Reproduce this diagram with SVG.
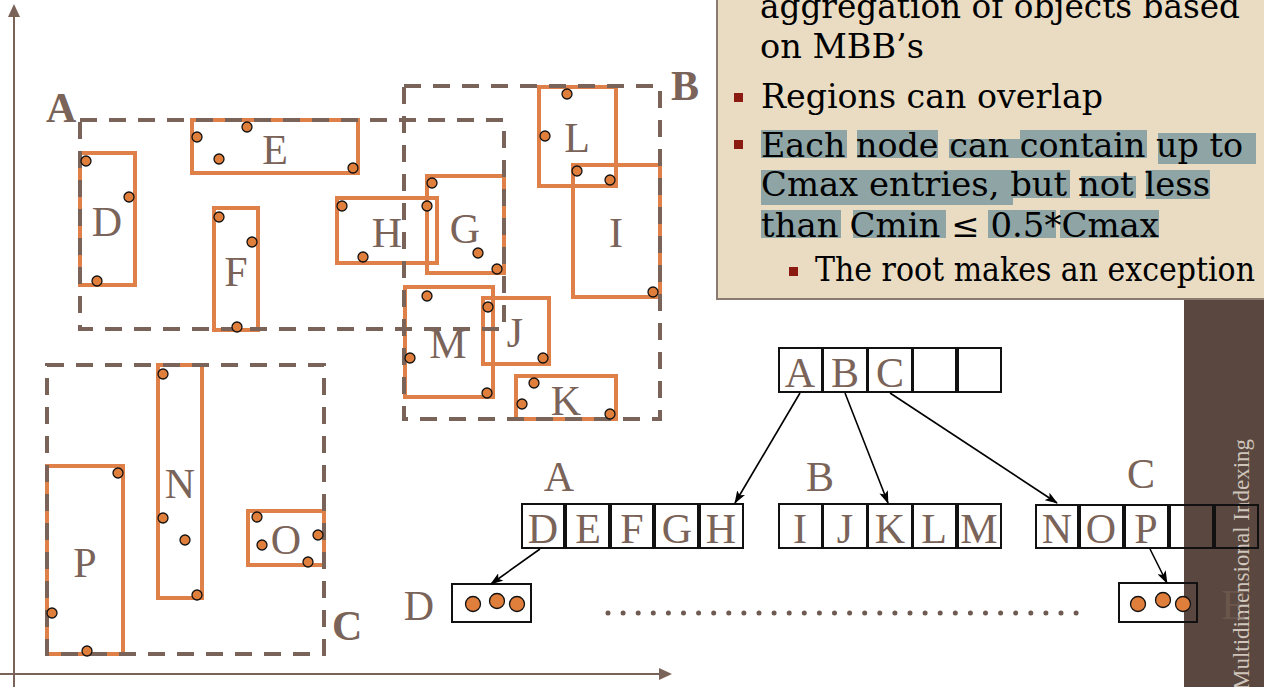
<svg xmlns="http://www.w3.org/2000/svg" width="1264" height="687" viewBox="0 0 1264 687">
<defs>
<style>
.ax{stroke:#7a6358;stroke-width:2;fill:none}
.dash{fill:none;stroke:#7a6358;stroke-width:4;stroke-dasharray:17 12}
.mbb{fill:none;stroke:#df8048;stroke-width:4}
.dot{fill:#e07e3c;stroke:#111;stroke-width:1.3}
.lbl{font-family:"Liberation Serif","Times New Roman",serif;font-size:42px;fill:#7a6358;text-anchor:middle}
.reg{font-family:"Liberation Serif","Times New Roman",serif;font-size:42px;font-weight:bold;fill:#7a6358}
.box{fill:none;stroke:#111;stroke-width:2}
.edge{stroke:#000;stroke-width:1.6;fill:none;marker-end:url(#arr)}
.bt{font-family:"DejaVu Serif","Liberation Serif",serif;font-size:33px;fill:#000}
.hl{fill:#8fa5a5}
.bul{fill:#8b1a10}
</style>
<marker id="arr" viewBox="0 0 13 9" refX="12" refY="4.5" markerWidth="13" markerHeight="9" markerUnits="userSpaceOnUse" orient="auto">
<path d="M0,0 L13,4.5 L0,9 L3,4.5 z" fill="#000"/>
</marker>
</defs>
<rect width="1264" height="687" fill="#fff"/>

<!-- sidebar -->
<g id="sidebar">
<rect x="1184" y="0" width="80" height="687" fill="#5a4840"/>
<text transform="translate(1249,690) rotate(-90)" font-family="Liberation Serif,serif" font-size="23" fill="#cfc5bb">Multidimensional Indexing</text>
</g>

<!-- text box -->
<g id="textbox">
<rect x="717" y="-5" width="560" height="304" fill="#e9dcc3" stroke="#8a7a70" stroke-width="2"/>
<rect class="hl" x="761" y="130" width="86" height="28"/>
<rect class="hl" x="857" y="130" width="81" height="28"/>
<rect class="hl" x="949" y="139" width="72" height="19"/>
<rect class="hl" x="1020" y="130" width="127" height="28"/>
<rect class="hl" x="1158" y="133" width="98" height="31"/>
<rect class="hl" x="761" y="170" width="252" height="35"/>
<rect class="hl" x="1013" y="170" width="57" height="28"/>
<rect class="hl" x="1081" y="176" width="55" height="22"/>
<rect class="hl" x="1146" y="170" width="64" height="29"/>
<rect class="hl" x="761" y="210" width="80" height="28"/>
<rect class="hl" x="853" y="210" width="93" height="28"/>
<rect class="hl" x="988" y="210" width="68" height="28"/>
<rect class="hl" x="1060" y="210" width="99" height="28"/>
<text class="bt" x="760" y="18" textLength="480" lengthAdjust="spacingAndGlyphs">aggregation of objects based</text>
<text class="bt" x="760" y="58" textLength="164" lengthAdjust="spacingAndGlyphs">on MBB’s</text>
<rect class="bul" x="734" y="93" width="9" height="9"/>
<text class="bt" x="761" y="108" textLength="342" lengthAdjust="spacingAndGlyphs">Regions can overlap</text>
<rect class="bul" x="734" y="140" width="9" height="9"/>
<text class="bt" x="761" y="157" textLength="482" lengthAdjust="spacingAndGlyphs">Each node can contain up to</text>
<text class="bt" x="761" y="196" textLength="449" lengthAdjust="spacingAndGlyphs">Cmax entries, but not less</text>
<text class="bt" x="761" y="237" textLength="398" lengthAdjust="spacingAndGlyphs">than Cmin ≤ 0.5*Cmax</text>
<rect class="bul" x="789" y="267" width="9" height="9"/>
<text class="bt" x="815" y="281" font-size="29" textLength="440" lengthAdjust="spacingAndGlyphs">The root makes an exception</text>
</g>

<!-- axes -->
<g id="axes">
<line class="ax" x1="14" y1="687" x2="14" y2="14"/>
<polygon points="14,4 8,17 20,17" fill="#7a6358"/>
<line class="ax" x1="0" y1="674" x2="662" y2="674"/>
<polygon points="672,674 659,668 659,680" fill="#7a6358"/>
</g>

<!-- MBB rectangles -->
<g id="mbbs">
<rect class="mbb" x="80" y="153" width="55" height="132"/>
<rect class="mbb" x="192" y="120" width="166" height="53"/>
<rect class="mbb" x="214" y="208" width="44" height="122"/>
<rect class="mbb" x="337" y="198" width="100" height="65"/>
<rect class="mbb" x="427" y="176" width="77" height="97"/>
<rect class="mbb" x="539" y="87" width="77" height="99"/>
<rect class="mbb" x="573" y="165" width="87" height="132"/>
<rect class="mbb" x="405" y="287" width="88" height="110"/>
<rect class="mbb" x="483" y="298" width="66" height="66"/>
<rect class="mbb" x="516" y="376" width="100" height="43"/>
<rect class="mbb" x="158" y="365" width="44" height="233"/>
<rect class="mbb" x="47" y="466" width="76" height="188"/>
<rect class="mbb" x="248" y="511" width="76" height="54"/>
</g>

<!-- dashed regions -->
<g id="region-A">
<rect class="dash" x="80" y="120" width="424" height="209"/>
<text class="reg" x="46" y="122">A</text>
</g>
<g id="region-B">
<rect class="dash" x="404" y="86" width="256" height="333"/>
<text class="reg" x="671" y="100">B</text>
</g>
<g id="region-C">
<rect class="dash" x="47" y="365" width="277" height="289"/>
<text class="reg" x="332" y="640">C</text>
</g>

<!-- labels -->
<g id="mbb-labels">
<text class="lbl" x="107" y="236">D</text>
<text class="lbl" x="275" y="164">E</text>
<text class="lbl" x="236" y="286">F</text>
<text class="lbl" x="387" y="247">H</text>
<text class="lbl" x="465" y="243">G</text>
<text class="lbl" x="577" y="152">L</text>
<text class="lbl" x="616" y="247">I</text>
<text class="lbl" x="448" y="358">M</text>
<text class="lbl" x="515" y="347">J</text>
<text class="lbl" x="566" y="415">K</text>
<text class="lbl" x="180" y="498">N</text>
<text class="lbl" x="85" y="577">P</text>
<text class="lbl" x="286" y="554">O</text>
</g>

<!-- points -->
<g id="points">
<circle class="dot" cx="86" cy="161" r="5"/>
<circle class="dot" cx="129" cy="197" r="5"/>
<circle class="dot" cx="97" cy="281" r="5"/>
<circle class="dot" cx="197" cy="137" r="5"/>
<circle class="dot" cx="247" cy="127" r="5"/>
<circle class="dot" cx="219" cy="159" r="5"/>
<circle class="dot" cx="353" cy="168" r="5"/>
<circle class="dot" cx="219" cy="217" r="5"/>
<circle class="dot" cx="252" cy="242" r="5"/>
<circle class="dot" cx="237" cy="327" r="5"/>
<circle class="dot" cx="342" cy="206" r="5"/>
<circle class="dot" cx="363" cy="257" r="5"/>
<circle class="dot" cx="427" cy="206" r="5"/>
<circle class="dot" cx="432" cy="183" r="5"/>
<circle class="dot" cx="478" cy="253" r="5"/>
<circle class="dot" cx="497" cy="269" r="5"/>
<circle class="dot" cx="567" cy="94" r="5"/>
<circle class="dot" cx="545" cy="136" r="5"/>
<circle class="dot" cx="610" cy="180" r="5"/>
<circle class="dot" cx="577" cy="171" r="5"/>
<circle class="dot" cx="653" cy="292" r="5"/>
<circle class="dot" cx="427" cy="296" r="5"/>
<circle class="dot" cx="410" cy="358" r="5"/>
<circle class="dot" cx="487" cy="393" r="5"/>
<circle class="dot" cx="488" cy="307" r="5"/>
<circle class="dot" cx="543" cy="358" r="5"/>
<circle class="dot" cx="534" cy="383" r="5"/>
<circle class="dot" cx="522" cy="404" r="5"/>
<circle class="dot" cx="610" cy="414" r="5"/>
<circle class="dot" cx="163" cy="374" r="5"/>
<circle class="dot" cx="163" cy="518" r="5"/>
<circle class="dot" cx="185" cy="540" r="5"/>
<circle class="dot" cx="197" cy="595" r="5"/>
<circle class="dot" cx="118" cy="473" r="5"/>
<circle class="dot" cx="52" cy="613" r="5"/>
<circle class="dot" cx="87" cy="651" r="5"/>
<circle class="dot" cx="257" cy="517" r="5"/>
<circle class="dot" cx="262" cy="545" r="5"/>
<circle class="dot" cx="318" cy="535" r="5"/>
<circle class="dot" cx="308" cy="562" r="5"/>
</g>

<!-- tree: root -->
<g id="root-node">
<rect class="box" x="779" y="348" width="43" height="44"/>
<rect class="box" x="823" y="348" width="44" height="44"/>
<rect class="box" x="868" y="348" width="44" height="44"/>
<rect class="box" x="913" y="348" width="43" height="44"/>
<rect class="box" x="958" y="348" width="43" height="44"/>
<text class="lbl" x="800" y="387">A</text>
<text class="lbl" x="845" y="387">B</text>
<text class="lbl" x="890" y="387">C</text>
</g>

<g id="node-A">
<text class="lbl" x="559" y="491">A</text>
<rect class="box" x="522" y="504" width="42" height="44"/>
<rect class="box" x="566" y="504" width="43" height="44"/>
<rect class="box" x="611" y="504" width="42" height="44"/>
<rect class="box" x="655" y="504" width="43" height="44"/>
<rect class="box" x="700" y="504" width="43" height="44"/>
<text class="lbl" x="543" y="543">D</text>
<text class="lbl" x="588" y="543">E</text>
<text class="lbl" x="632" y="543">F</text>
<text class="lbl" x="677" y="543">G</text>
<text class="lbl" x="721" y="543">H</text>
</g>

<g id="node-B">
<text class="lbl" x="820" y="491">B</text>
<rect class="box" x="779" y="504" width="43" height="44"/>
<rect class="box" x="823" y="504" width="44" height="44"/>
<rect class="box" x="868" y="504" width="44" height="44"/>
<rect class="box" x="913" y="504" width="43" height="44"/>
<rect class="box" x="958" y="504" width="43" height="44"/>
<text class="lbl" x="800" y="543">I</text>
<text class="lbl" x="845" y="543">J</text>
<text class="lbl" x="890" y="543">K</text>
<text class="lbl" x="934" y="543">L</text>
<text class="lbl" x="979" y="543">M</text>
</g>

<g id="node-C">
<text class="lbl" x="1141" y="488">C</text>
<rect class="box" x="1036" y="505" width="42" height="43"/>
<rect class="box" x="1080" y="505" width="43" height="43"/>
<rect class="box" x="1125" y="505" width="43" height="43"/>
<rect class="box" x="1170" y="505" width="43" height="43"/>
<rect class="box" x="1215" y="505" width="43" height="43"/>
<text class="lbl" x="1057" y="543">N</text>
<text class="lbl" x="1101" y="543">O</text>
<text class="lbl" x="1146" y="543">P</text>
</g>

<g id="leaf-D">
<text class="lbl" x="419" y="620">D</text>
<rect class="box" x="452" y="584" width="79" height="38"/>
<circle class="dot" cx="473" cy="604" r="7.5"/>
<circle class="dot" cx="497" cy="601" r="7.5"/>
<circle class="dot" cx="517" cy="604" r="7.5"/>
</g>

<g id="leaf-E">
<rect class="box" x="1119" y="583" width="78" height="39"/>
<circle class="dot" cx="1138" cy="604" r="7.5"/>
<circle class="dot" cx="1163" cy="600" r="7.5"/>
<circle class="dot" cx="1183" cy="604" r="7.5"/>
<text class="lbl" x="1234" y="619" fill-opacity="0.55">E</text>
</g>

<g id="connectors">
<line class="edge" x1="800" y1="393" x2="735" y2="503"/>
<line class="edge" x1="845" y1="393" x2="888" y2="503"/>
<line class="edge" x1="890" y1="393" x2="1057" y2="503"/>
<line class="edge" x1="540" y1="549" x2="491" y2="584"/>
<line class="edge" x1="1150" y1="549" x2="1167" y2="583"/>
<line x1="608" y1="613" x2="1077" y2="613" stroke="#6e5a50" stroke-width="5" stroke-linecap="round" stroke-dasharray="0 15.1"/>
</g>
</svg>
